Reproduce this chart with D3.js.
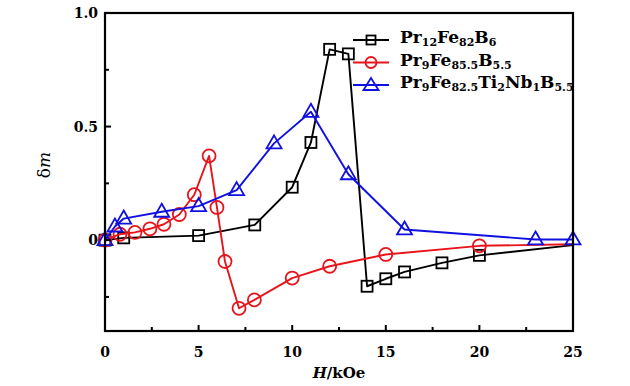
<!DOCTYPE html>
<html>
<head>
<meta charset="utf-8">
<script src="https://cdn.jsdelivr.net/npm/d3@7"></script>
<style>
  body { margin: 0; background: #fff; }
  text { font-family: "DejaVu Serif", "Liberation Serif", serif; font-weight: bold; }
</style>
</head>
<body>
<div id="chart"></div>
<script>
// chart data
const xTicks = [0, 5, 10, 15, 20, 25];
const yTicks = [0, 0.5, 1.0];

// Pr12Fe82B6 (black squares)
const blackH = [0, 1, 5, 8, 10, 11, 12, 13, 14, 15, 16, 18, 20, 25];
const blackDm = [0, 0.01, 0.02, 0.067, 0.233, 0.43, 0.84, 0.82, -0.203, -0.17, -0.14, -0.1, -0.067, -0.022];

// Pr9Fe85.5B5.5 (red circles)
const redH = [0, 0.8, 1.6, 2.4, 3.15, 3.97, 4.77, 5.56, 5.98, 6.41, 7.16, 7.98, 10, 12, 15, 20, 25];
const redDm = [0, 0.026, 0.034, 0.05, 0.07, 0.113, 0.2, 0.371, 0.144, -0.094, -0.3, -0.263, -0.167, -0.115, -0.063, -0.025, -0.018];

// Pr9Fe82.5Ti2Nb1B5.5 (blue triangles)
const blueH = [0, 0.53, 1.0, 3.03, 5, 7.03, 9.03, 11, 13, 16, 23, 25];
const blueDm = [0, 0.06, 0.095, 0.125, 0.15, 0.22, 0.426, 0.565, 0.29, 0.047, 0.003, 0.003];

const MARGIN = { top: 13, right: 57, bottom: 55, left: 105 };
const WIDTH = 630 - MARGIN.left - MARGIN.right;
const HEIGHT = 386 - MARGIN.top - MARGIN.bottom;

const svg = d3.select("#chart").append("svg")
  .attr("width", 630).attr("height", 386);
const g = svg.append("g")
  .attr("transform", `translate(${MARGIN.left},${MARGIN.top})`);

const x = d3.scaleLinear().domain([0, 25]).range([0, WIDTH]);
const y = d3.scaleLinear().domain([-0.4, 1.0]).range([HEIGHT, 0]);

// series: markers are drawn for every point except the bare line end
const series = [
  { name: "Pr12Fe82B6", color: "#000", shape: "square", h: blackH, dm: blackDm, lastMarker: false,
    parts: [["Pr", ""], ["12", "sub"], ["Fe", ""], ["82", "sub"], ["B", ""], ["6", "sub"]] },
  { name: "Pr9Fe85.5B5.5", color: "#e8141c", shape: "circle", h: redH, dm: redDm, lastMarker: false,
    parts: [["Pr", ""], ["9", "sub"], ["Fe", ""], ["85.5", "sub"], ["B", ""], ["5.5", "sub"]] },
  { name: "Pr9Fe82.5Ti2Nb1B5.5", color: "#1010e0", shape: "triangle", h: blueH, dm: blueDm, lastMarker: true,
    parts: [["Pr", ""], ["9", "sub"], ["Fe", ""], ["82.5", "sub"], ["Ti", ""], ["2", "sub"], ["Nb", ""], ["1", "sub"], ["B", ""], ["5.5", "sub"]] }
];

function drawMarker(sel, shape, color) {
  if (shape === "square") {
    sel.append("rect").attr("x", -5.5).attr("y", -5.5).attr("width", 11).attr("height", 11)
      .attr("fill", "none").attr("stroke", color).attr("stroke-width", 1.8);
  } else if (shape === "circle") {
    sel.append("circle").attr("r", 6.5)
      .attr("fill", "none").attr("stroke", color).attr("stroke-width", 1.8);
  } else {
    sel.append("path").attr("d", "M0,-8L7.5,5L-7.5,5Z")
      .attr("fill", "none").attr("stroke", color).attr("stroke-width", 1.8);
  }
}

const line = d3.line().x((d) => x(d[0])).y((d) => y(d[1]));

series.forEach((s) => {
  const pts = s.h.map((h, i) => [h, s.dm[i]]);
  g.append("path").datum(pts)
    .attr("fill", "none").attr("stroke", s.color).attr("stroke-width", 1.9)
    .attr("stroke-linejoin", "round").attr("d", line);
  const mpts = s.lastMarker ? pts : pts.slice(0, -1);
  g.append("g").selectAll("g").data(mpts).join("g")
    .attr("transform", (d) => `translate(${x(d[0])},${y(d[1])})`)
    .each(function () { drawMarker(d3.select(this), s.shape, s.color); });
});

// axes box
g.append("rect").attr("width", WIDTH).attr("height", HEIGHT)
  .attr("fill", "none").attr("stroke", "#000").attr("stroke-width", 2.2);

// bottom ticks (inward), minor at halves
const xMinor = d3.range(2.5, 25, 5);
g.append("g").selectAll("line").data(xTicks.concat(xMinor)).join("line")
  .attr("x1", (d) => x(d)).attr("x2", (d) => x(d))
  .attr("y1", HEIGHT).attr("y2", (d) => HEIGHT - (xTicks.includes(d) ? 6 : 4))
  .attr("stroke", "#000").attr("stroke-width", 2);
g.append("g").selectAll("text").data(xTicks).join("text")
  .attr("x", (d) => x(d)).attr("y", HEIGHT + 26)
  .attr("text-anchor", "middle").attr("font-size", 14)
  .text((d) => d);

// left ticks (inward)
const yMinor = [-0.25, 0.25, 0.75];
g.append("g").selectAll("line").data(yTicks.concat(yMinor)).join("line")
  .attr("x1", 0).attr("x2", (d) => (yTicks.includes(d) ? 6 : 4))
  .attr("y1", (d) => y(d)).attr("y2", (d) => y(d))
  .attr("stroke", "#000").attr("stroke-width", 2);
g.append("g").selectAll("text").data(yTicks).join("text")
  .attr("x", -7).attr("y", (d) => y(d) + 5)
  .attr("text-anchor", "end").attr("font-size", 14)
  .text((d) => (d === 0 ? "0" : d.toFixed(1)));

// axis titles
g.append("text")
  .attr("transform", `translate(-55,${y(0.33)}) rotate(-90)`)
  .attr("text-anchor", "middle").attr("font-size", 17)
  .call((t) => {
    t.append("tspan").attr("font-weight", "normal").text("δ");
    t.append("tspan").attr("font-style", "italic").attr("font-weight", "normal").text("m");
  });
g.append("text")
  .attr("x", WIDTH / 2).attr("y", HEIGHT + 47)
  .attr("text-anchor", "middle").attr("font-size", 15)
  .call((t) => {
    t.append("tspan").attr("font-style", "italic").text("H");
    t.append("tspan").text("/kOe");
  });

// legend
const legend = g.append("g").attr("transform", "translate(248,27)");
series.forEach((s, i) => {
  const row = legend.append("g").attr("transform", `translate(0,${i * 22.5})`);
  row.append("line").attr("x1", 0).attr("x2", 36)
    .attr("stroke", s.color).attr("stroke-width", 1.9);
  const m = row.append("g").attr("transform", "translate(18,0)");
  if (s.shape === "square") {
    m.append("rect").attr("x", -4.5).attr("y", -4.5).attr("width", 9).attr("height", 9)
      .attr("fill", "none").attr("stroke", s.color).attr("stroke-width", 1.8);
  } else if (s.shape === "circle") {
    m.append("circle").attr("r", 5.5)
      .attr("fill", "none").attr("stroke", s.color).attr("stroke-width", 1.8);
  } else {
    m.append("path").attr("d", "M0,-7L7.5,5L-7.5,5Z")
      .attr("fill", "none").attr("stroke", s.color).attr("stroke-width", 1.8);
  }
  const t = row.append("text").attr("x", 47).attr("y", 6).attr("font-size", 17);
  s.parts.forEach(([txt, kind]) => {
    if (kind === "sub") {
      t.append("tspan").attr("font-size", 11).attr("dy", 3).text(txt);
    } else {
      t.append("tspan").attr("dy", t.selectAll("tspan").size() ? -3 : 0).text(txt);
    }
  });
});
</script>
</body>
</html>
